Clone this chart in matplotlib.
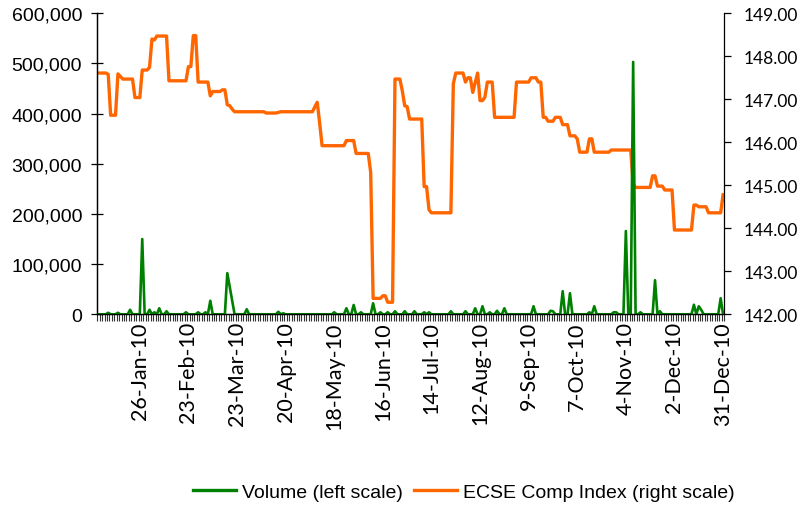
import numpy as np
import pandas as pd
import matplotlib
matplotlib.use("Agg")
import matplotlib.pyplot as plt
from matplotlib.lines import Line2D
from matplotlib.ticker import FixedLocator, FuncFormatter

# trading sessions of 2010 (weekdays less market holidays)
holidays = ["2010-05-24", "2010-08-02", "2010-12-27"]
sessions = pd.bdate_range("2010-01-01", "2010-12-31").drop(pd.to_datetime(holidays))

# ECSE Composite Index, value read at session number (0 = 1-Jan-10)
index_session = [0, 3, 4, 5, 7, 8, 10, 14, 15, 17, 18, 20, 21, 22, 23, 24, 28, 29, 36,
                 37, 38, 39, 40, 41, 45, 46, 47, 50, 51, 52, 53, 54, 55, 56, 68, 69, 73,
                 75, 88, 90, 91, 92, 101, 102, 105, 106, 111, 112, 113, 116, 117, 118,
                 119, 121, 122, 124, 125, 126, 127, 128, 133, 134, 135, 136, 137, 145,
                 146, 147, 150, 151, 152, 153, 154, 156, 157, 158, 159, 160, 162, 163,
                 171, 172, 177, 178, 180, 181, 182, 183, 184, 185, 187, 188, 190, 191,
                 193, 194, 196, 197, 198, 201, 202, 203, 204, 210, 211, 219, 220, 221,
                 227, 228, 229, 230, 232, 233, 236, 237, 244, 245, 246, 247, 250, 251,
                 256, 257]
index_value = [147.61, 147.61, 147.58, 146.63, 146.63, 147.59, 147.47, 147.47, 147.04,
               147.04, 147.68, 147.68, 147.74, 148.40, 148.38, 148.47, 148.47, 147.43,
               147.43, 147.76, 147.76, 148.48, 148.48, 147.40, 147.40, 147.08, 147.18,
               147.18, 147.22, 147.22, 146.87, 146.85, 146.77, 146.71, 146.71, 146.68,
               146.68, 146.71, 146.71, 146.93, 146.45, 145.92, 145.92, 146.04, 146.04,
               145.74, 145.74, 145.30, 142.37, 142.37, 142.43, 142.43, 142.28, 142.28,
               147.47, 147.47, 147.20, 146.85, 146.83, 146.54, 146.54, 144.97, 144.97,
               144.43, 144.36, 144.36, 147.36, 147.61, 147.61, 147.40, 147.50, 147.50,
               147.16, 147.61, 146.97, 146.97, 147.05, 147.40, 147.40, 146.58, 146.58,
               147.40, 147.40, 147.50, 147.50, 147.40, 147.40, 146.58, 146.58, 146.49,
               146.49, 146.58, 146.58, 146.41, 146.41, 146.15, 146.15, 146.08, 145.77,
               145.77, 146.08, 146.08, 145.77, 145.77, 145.82, 145.82, 145.03, 144.95,
               144.95, 145.22, 145.22, 144.98, 144.98, 144.89, 144.89, 143.96, 143.96,
               144.54, 144.54, 144.50, 144.50, 144.36, 144.36, 144.78]

# traded volume, only sessions with trades listed
volume_session = [4, 8, 13, 18, 21, 23, 25, 28, 36, 41, 44, 46, 53, 54, 55, 61, 74, 76,
                  97, 102, 105, 108, 113, 116, 119, 122, 126, 130, 134, 136, 145, 151,
                  155, 158, 161, 164, 167, 179, 186, 187, 191, 194, 202, 204, 212, 213,
                  217, 220, 223, 229, 231, 245, 247, 248, 256]
volume_value = [3000, 3000, 9000, 150000, 9000, 4000, 12000, 6000, 4000, 4000, 4000,
                27000, 82000, 55000, 27000, 10000, 5000, 2000, 4000, 12000, 18500, 4000,
                22000, 4000, 4000, 6000, 6000, 6000, 4000, 4000, 6000, 6000, 12000,
                16000, 4000, 7000, 12000, 16000, 7000, 6000, 46000, 42000, 4000, 16000,
                4000, 4000, 166000, 503000, 4000, 68000, 6000, 19000, 16000, 9000, 32000]

green = "#008000"
orange = "#FF6600"

n = len(sessions)
volume = np.zeros(n)
volume[volume_session] = volume_value

fig = plt.figure(figsize=(8.08, 5.06), dpi=100)
ax = fig.add_axes([0.1204, 0.3769, 0.776, 0.5949])
ax2 = ax.twinx()
ax.set_zorder(ax2.get_zorder() + 1)
ax.patch.set_visible(False)

ax2.plot(index_session, index_value, color=orange, lw=2.4, solid_joinstyle="round")
ax.plot(np.arange(n), volume, color=green, lw=1.9, solid_joinstyle="round")

ax.set_xlim(-0.5, n - 0.5)
ax.set_ylim(0, 600000)
ax2.set_ylim(142, 149)

for a in (ax, ax2):
    a.spines["top"].set_visible(False)
    for s in a.spines.values():
        s.set_linewidth(0.9)
ax.spines["right"].set_visible(False)

# left scale
ax.set_yticks(np.arange(0, 600001, 100000))
ax.yaxis.set_major_formatter(FuncFormatter(lambda v, p: f"{v:,.0f}"))
ax.tick_params(axis="y", direction="inout", length=8, width=0.9, pad=7, labelsize=14)
for t in ax.get_yticklabels():
    t.set_fontfamily("Liberation Sans")

# right scale
ax2.set_yticks(np.arange(142, 150, 1))
ax2.yaxis.set_major_formatter(FuncFormatter(lambda v, p: f"{v:.2f}"))
ax2.tick_params(axis="y", direction="out", length=5, width=0.9, pad=9, labelsize=12.5)
for t in ax2.get_yticklabels():
    t.set_fontfamily("Lato")

# x axis: one tick per session, label every 20 sessions
label_pos = list(range(17, n, 20))
ax.xaxis.set_major_locator(FixedLocator(label_pos))
ax.xaxis.set_minor_locator(FixedLocator(np.arange(-0.5, n, 1)))
ax.set_xticklabels([f"{sessions[i].day}-{sessions[i]:%b-%y}" for i in label_pos],
                   rotation=90, fontfamily="Lato", fontsize=15.5)
ax.tick_params(axis="x", which="both", direction="out", length=5, width=0.8,
               color="#333333", pad=5)
ax.tick_params(axis="x", which="major", length=0)

handles = [Line2D([], [], color=green, lw=2.4), Line2D([], [], color=orange, lw=2.4)]
fig.legend(handles, ["Volume (left scale)", "ECSE Comp Index (right scale)"],
           loc="center", bbox_to_anchor=(0.574, 0.026), ncol=2, frameon=False,
           prop={"family": "Liberation Sans", "size": 14}, handlelength=2.2,
           handletextpad=0.3, columnspacing=0.6)

fig.savefig("out.png", dpi=100)
